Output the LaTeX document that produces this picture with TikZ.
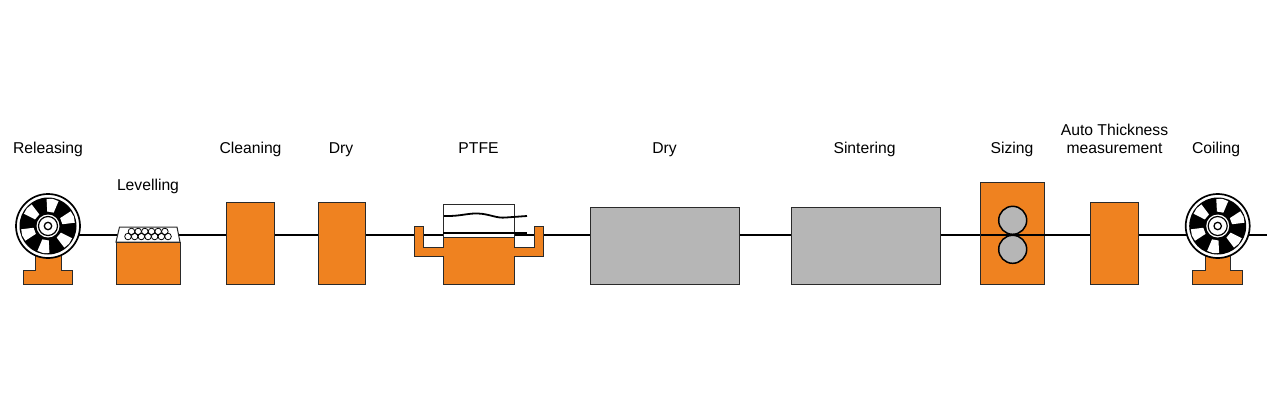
\documentclass[tikz,border=0pt]{standalone}
\usepackage{fontspec}
\setmainfont{Liberation Sans}
\usepackage{xcolor}
\usetikzlibrary{positioning}
\definecolor{plantOrange}{HTML}{EF8220}
\definecolor{plantGrey}{HTML}{B6B6B6}
\definecolor{plantEdge}{HTML}{2A2A2A}

\begin{document}
\begin{tikzpicture}[
  x=1pt, y=-1pt,
  station/.style={draw=plantEdge, line width=1pt, inner sep=0pt, outer sep=0pt},
  orangebox/.style={station, fill=plantOrange},
  greybox/.style={station, fill=plantGrey},
  roller/.style={circle, draw=black, line width=1.5pt, fill=plantGrey, minimum size=28pt, inner sep=0pt},
  tag/.style={font=\fontsize{15.7}{18}\selectfont, align=center, inner sep=0pt, anchor=base},
  strip/.style={draw=black, line width=1.8pt},
  reel/.pic={
    % base
    \draw[orangebox] (-12.5,28) -- (-12.5,44) -- (-25,44) -- (-25,58) -- (24.5,58) -- (24.5,44) -- (13,44) -- (13,28) -- cycle;
    % wheel
    \draw[line width=1.7pt, fill=white] (0,0) circle (32);
    \fill[black] (0,0) circle (28.5);
    \foreach \ang in {-80,-20,40,100,160,220} {
      \fill[white] (\ang-13:14.5) -- (\ang-13:27) -- (\ang:27.5) -- (\ang+13:27) -- (\ang+13:14.5) -- cycle;
    }
    \fill[white] (0,0) circle (11.5);
    \draw[line width=1.2pt] (0,0) circle (9.5);
    \draw[line width=1.3pt] (0,0) circle (3.7);
  }
]
  \useasboundingbox (0,0) rectangle (1284,400);

  % Line
  \coordinate (lineStart) at (48,235);
  \coordinate (lineEnd) at (1267,235);
  \draw[line width=1.1pt] (lineStart) -- (lineEnd);

  % Reels
  \pic at (48,226) {reel};
  \pic at (1217.7,226) {reel};

  % Levelling
  \draw[station, fill=white] (116,242) -- (119.5,227) -- (177,227) -- (180,242) -- cycle;
  \foreach \i in {0,...,5} {
    \draw[line width=0.8pt] (131.5+\i*6.67,231.5) circle (3.3);
  }
  \foreach \i in {0,...,6} {
    \draw[line width=0.8pt] (128+\i*6.67,236.5) circle (3.3);
  }
  \node[orangebox, minimum width=64pt, minimum height=42pt] (levelling) at (148,263) {};

  % Plain stations
  \node[orangebox, minimum width=48pt, minimum height=82pt] (cleaning) at (250,243) {};
  \node[orangebox, minimum width=47pt, minimum height=82pt] (dryA) at (341.5,243) {};
  \node[greybox, minimum width=149pt, minimum height=77pt] (dryB) at (664.5,245.5) {};
  \node[greybox, minimum width=149pt, minimum height=77pt] (sintering) at (865.5,245.5) {};
  \node[orangebox, minimum width=48pt, minimum height=82pt] (thickness) at (1114,243) {};

  % PTFE
  \node[station, fill=white, minimum width=71.5pt, minimum height=33pt] (bath) at (479,220.5) {};
  \draw[orangebox] (414.3,226.7) -- (423.3,226.7) -- (423.3,247.3) -- (443.3,247.3) -- (443.3,237) -- (514.7,237)
    -- (514.7,247.3) -- (534.7,247.3) -- (534.7,226.7) -- (543.3,226.7) -- (543.3,256.7) -- (514.7,256.7)
    -- (514.7,284.5) -- (443.3,284.5) -- (443.3,256.7) -- (414.3,256.7) -- cycle;
  \draw[strip] (bath.west |- 0,233) -- (527,233);
  \draw[strip] (444,216) .. controls (460,216.5) and (468,213) .. (478,213.5)
    .. controls (490,214) and (496,218.5) .. (506,217.5) -- (527,216);

  % Sizing
  \node[orangebox, minimum width=64pt, minimum height=102pt] (sizing) at (1012.7,233) {};
  \node[roller] (rollerTop) at (1012.7,220.3) {};
  \node[roller] (rollerBottom) at (1012.7,249.3) {};
  \draw[line width=1.1pt] (sizing.west |- lineStart) -- (sizing.east |- lineStart);

  % Labels
  \node[tag] (tagReleasing) at (48,153) {Releasing};
  \node[tag] (tagLevelling) at (148,190) {Levelling};
  \node[tag] (tagCleaning) at (250.5,153) {Cleaning};
  \node[tag] (tagDryA) at (341,153) {Dry};
  \node[tag] (tagPtfe) at (478.5,153) {PTFE};
  \node[tag] (tagDryB) at (664.5,153) {Dry};
  \node[tag] (tagSintering) at (864.5,153) {Sintering};
  \node[tag] (tagSizing) at (1012,153) {Sizing};
  \node[tag] (tagThicknessA) at (1114.5,135) {Auto Thickness};
  \node[tag] (tagThicknessB) at (1114.5,153) {measurement};
  \node[tag] (tagCoiling) at (1216,153) {Coiling};
\end{tikzpicture}
\end{document}
